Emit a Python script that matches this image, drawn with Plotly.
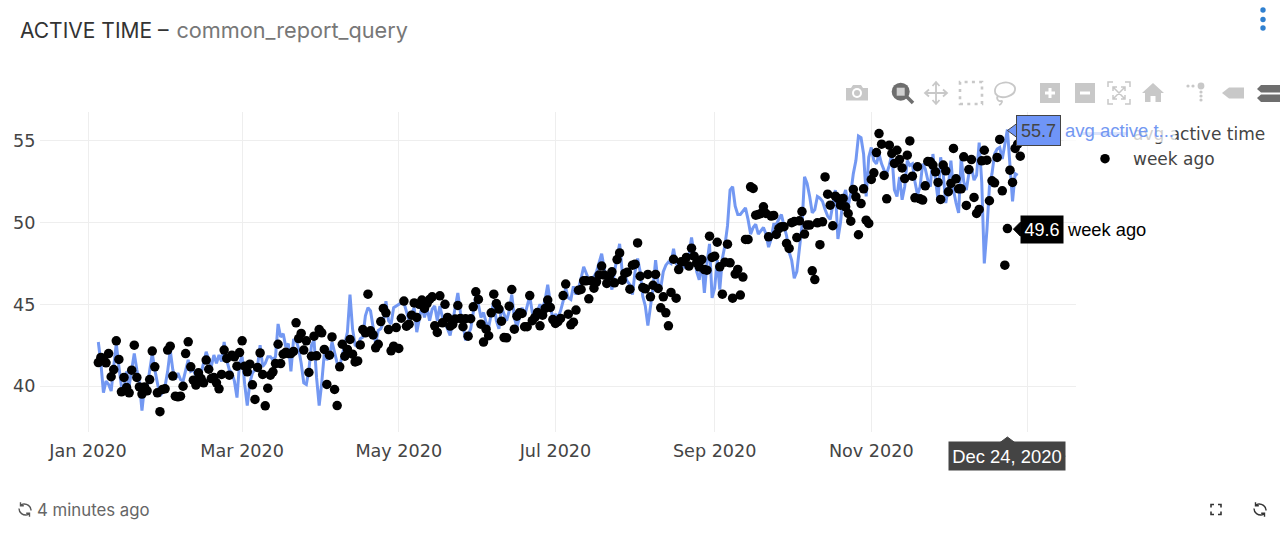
import pandas as pd
import plotly.graph_objects as go

FIRST_DAY = "2020-01-05"

avg_active_time = [
    42.7, 41.4, 39.6, 40.3, 40.1, 39.7, 41.2,
    42.6, 41.2, 40.0, 39.9, 40.9, 40.0, 41.0,
    42.0, 41.0, 40.2, 38.5, 40.0, 39.9, 41.0,
    42.0, 41.0, 40.2, 39.4, 39.6, 40.0, 40.9,
    42.2, 41.0, 40.4, 40.8, 40.4, 40.3, 41.0,
    41.6, 40.9, 41.0, 40.6, 40.7, 40.8, 41.4,
    42.1, 41.6, 41.2, 41.9, 41.4, 41.9, 41.5,
    42.7, 41.6, 41.0, 40.8, 40.3, 39.3, 41.4,
    41.8, 40.1, 38.8, 40.2, 40.8, 41.0, 41.2,
    42.5, 41.2, 41.4, 41.8, 41.8, 41.6, 41.8,
    43.8, 43.0, 43.2, 42.4, 42.6, 40.9, 42.8,
    42.8, 42.3, 41.4, 40.2, 40.1, 41.0, 42.5,
    42.8, 40.5, 38.8, 40.2, 42.0, 41.6, 41.8,
    42.7, 42.0, 41.4, 41.2, 41.9, 42.4, 43.3,
    45.6, 43.5, 42.5, 42.4, 42.9, 43.0, 44.3,
    44.8, 44.6, 43.5, 42.6, 43.4, 43.5, 43.9,
    45.2, 44.0, 43.8, 44.8, 44.9, 45.0, 45.1,
    45.1, 44.5, 44.0, 44.4, 44.8, 43.3, 44.0,
    44.9, 44.2, 44.8, 44.0, 44.7, 44.9, 44.0,
    44.9, 44.2, 43.8, 43.5, 43.1, 44.0, 45.0,
    45.7, 44.5, 43.8, 42.8, 43.2, 43.5, 44.5,
    45.5, 45.0, 44.2, 44.5, 43.9, 43.6, 44.5,
    45.2, 44.0, 43.5, 44.8, 44.4, 44.0, 44.6,
    45.6, 44.2, 43.6, 44.2, 44.8, 44.3, 44.9,
    45.5, 44.5, 44.1, 44.6, 45.0, 44.7, 45.3,
    46.2, 45.0, 44.0, 44.4, 44.2, 44.6, 45.2,
    46.0, 45.4, 45.3, 46.1, 45.6, 46.0, 46.6,
    47.3, 46.9, 46.5, 46.6, 46.7, 47.0, 47.5,
    48.1, 47.2, 46.3, 46.8, 45.9, 47.0, 47.8,
    48.7, 47.0, 46.8, 46.4, 46.2, 45.6, 47.0,
    47.8, 47.0, 45.5, 44.9, 43.7, 45.0, 46.0,
    47.7, 46.3, 46.0, 47.0, 47.4, 47.6, 47.5,
    48.4, 47.5, 47.3, 47.4, 47.3, 47.9, 48.0,
    49.1, 48.0, 47.0, 46.5, 47.6, 45.7, 47.5,
    48.7, 45.4, 46.0, 47.7, 45.9, 47.8, 48.6,
    49.8, 52.0, 52.2, 51.0, 50.5, 50.5, 50.7,
    50.9, 50.2, 49.3, 49.7, 49.9, 49.3, 49.5,
    49.7, 49.3, 48.5, 49.0, 49.9, 49.9, 50.2,
    50.5, 49.8, 49.2, 48.2, 47.7, 46.6, 47.0,
    48.4, 49.8, 52.8, 52.4, 51.6, 50.6, 50.8,
    51.6, 51.5, 51.3, 50.8, 50.4, 50.2, 51.0,
    52.0, 49.0, 50.0, 51.5, 52.0, 51.0, 51.8,
    53.0, 53.8, 55.3, 55.2, 54.2, 51.6, 54.0,
    54.6, 53.8, 53.6, 54.2, 53.6, 53.2, 53.0,
    53.5, 54.2, 52.0, 51.6, 52.8, 51.4, 52.2,
    53.8, 53.5, 53.6, 52.5, 51.7, 52.2, 53.6,
    53.3, 52.6, 52.2, 54.2, 52.6, 51.4, 54.0,
    53.0, 51.2, 52.2, 53.8, 52.0, 51.2, 50.6,
    54.0, 52.5, 52.0, 53.0, 53.4, 52.6, 52.9,
    54.9, 52.5, 47.5, 49.5, 52.2, 53.0, 54.2,
    54.5, 54.6, 53.9, 54.8, 55.7, 53.5, 51.3, 53.0, 52.9,
]

week_ago = [
    41.44, 41.75, 41.69, 41.42, 41.99, 40.57, 41.01, 42.77, 41.63, 39.65,
    40.53, 39.91, 39.59, 40.97, 42.50, 40.53, 39.95, 39.51, 39.95, 39.71,
    40.40, 42.14, 41.18, 39.59, 38.43, 39.79, 39.83, 42.20, 42.44, 40.61,
    39.38, 39.34, 39.38, 39.99, 41.99, 42.71, 41.18, 40.36, 40.06, 40.81,
    40.46, 40.20, 41.59, 41.03, 40.46, 40.53, 40.20, 39.83, 40.71, 42.20,
    41.69, 40.67, 41.89, 41.79, 41.22, 42.05, 42.77, 41.22, 40.87, 41.34,
    40.08, 39.18, 41.14, 42.03, 40.71, 38.79, 39.87, 40.67, 40.87, 41.38,
    42.56, 41.38, 41.95, 42.07, 41.99, 41.99, 42.12, 43.87, 42.91, 43.22,
    42.20, 42.77, 40.83, 41.83, 43.05, 41.85, 43.46, 43.26, 42.24, 40.10,
    41.89, 43.01, 39.79, 38.81, 41.18, 42.56, 41.83, 42.24, 42.85, 41.95,
    41.48, 41.54, 42.52, 43.46, 43.26, 45.62, 43.38, 43.13, 42.34, 42.56,
    43.95, 44.75, 44.48, 43.46, 42.16, 42.44, 43.58, 42.30, 44.15, 45.20,
    43.66, 43.79,
    44.34, 45.09, 44.20, 45.00, 45.26, 44.75, 45.05, 45.30, 45.46, 43.69,
    43.28, 45.52, 43.87, 45.00, 44.20, 43.67, 43.77, 44.10, 44.93, 44.14,
    43.63, 44.12, 43.05, 44.12, 44.85, 45.77, 45.30, 43.79, 42.69, 43.48,
    43.08, 44.48, 45.62, 45.05, 44.71, 43.97, 42.97, 42.95, 44.89, 45.91,
    43.48, 44.28, 44.48, 44.44, 43.63, 43.63, 45.54, 44.00, 44.20, 44.50,
    43.69, 44.34, 44.75, 45.26, 44.81, 44.07, 43.83, 43.95, 44.14, 45.54,
    46.24, 44.40, 43.75, 43.91, 44.65, 45.87, 45.91, 46.44, 46.44, 45.34,
    46.44, 45.99, 46.38, 46.79, 47.34, 46.79, 46.28, 46.72, 46.99, 46.32,
    47.74, 48.15, 46.48, 46.89, 46.97, 45.93, 47.40, 47.46, 48.76, 46.72,
    46.03, 45.95, 46.83, 45.46, 46.17, 46.83, 45.97, 44.79, 45.46, 44.48,
    43.69, 45.73, 47.76, 45.38, 47.13, 47.60, 47.62, 47.87, 47.34, 48.44,
    47.95, 47.54, 47.30, 47.74, 47.13, 47.09, 49.17, 47.87, 47.95, 48.80,
    47.30, 45.62, 47.58, 48.68, 47.54,
    45.38, 46.85, 47.14, 45.57, 46.67,
    48.97, 48.97, 52.19, 52.09, 50.46, 50.50, 50.56, 50.97, 50.56, 49.13,
    50.40, 50.44, 49.28, 49.64, 49.75, 49.75, 48.73, 48.42, 50.00, 50.07,
    49.09, 50.11, 50.68, 49.30, 49.85, 49.85, 47.05, 46.52, 49.99, 48.65,
    50.05, 52.80, 51.74, 51.07, 49.81, 51.62, 51.48, 51.07, 51.48, 50.97,
    50.56, 50.09, 52.03, 51.58, 49.26, 51.17, 52.07, 50.15, 49.95, 52.64,
    53.05, 54.29, 55.45, 54.80, 52.89, 51.46, 54.74, 54.23, 53.62, 54.43,
    53.86, 53.35, 52.70, 54.13, 55.00, 52.84, 51.52, 53.42, 51.46, 51.38,
    52.25, 53.74, 53.72, 53.52, 53.11, 52.46, 51.42, 53.52, 53.17, 51.89,
    52.40, 54.54, 52.68, 52.07, 52.07, 54.03, 51.05, 53.25, 53.86, 51.54,
    50.56, 50.81, 53.78, 54.43, 53.82, 51.34, 52.56, 52.44, 53.99, 55.09,
    51.95, 47.40, 49.64, 53.21, 52.46, 54.54, 54.80, 54.07,
]

HOVER_DATE = "2020-12-24"
HOVER_DATE_LABEL = "Dec 24, 2020"
HOVER_AVG = 55.7
HOVER_WEEK = 49.6

LINE_BLUE = "#7398f2"
BLUE_LABEL = "#6f95f7"
GRID = "#eeeeee"
TEXT = "#444444"
ICON_LIGHT = "#c8c8c8"
ICON_DARK = "#6e6e6e"

# Pixel frame of the plot area in the 1280x542 page
L, R, T, B = 40, 1076, 112, 432


def paper_x(px):
    return (px - L) / (R - L)


def paper_y(py):
    return (B - py) / (B - T)


fig = go.Figure()
fig.add_trace(go.Scatter(
    x=pd.date_range(FIRST_DAY, periods=len(avg_active_time)),
    y=avg_active_time,
    mode="lines",
    name="avg active time",
    line=dict(color=LINE_BLUE, width=3),
))
fig.add_trace(go.Scatter(
    x=pd.date_range(FIRST_DAY, periods=len(week_ago)),
    y=week_ago,
    mode="markers",
    name="week ago",
    marker=dict(color="#000000", size=9.5),
))

refresh_icon = (
    "M-6,1 C-6,-3.5 -2,-6 2.2,-5.4 L4.5,-4.4 M4.5,-7.2 L4.5,-3.8 L1.2,-3.8 "
    "M6,-1 C6,3.5 2,6 -2.2,5.4 L-4.5,4.4 M-4.5,7.2 L-4.5,3.8 L-1.2,3.8"
)
focus_icon = (
    "M-5,-2 L-5,-5 L-2,-5 M2,-5 L5,-5 L5,-2 M5,2 L5,5 L2,5 M-2,5 L-5,5 L-5,2"
)


def glyph(px, py, path, fill=None, color=None, width=0, dash=None):
    return dict(
        type="path", xref="paper", yref="paper",
        xsizemode="pixel", ysizemode="pixel",
        xanchor=paper_x(px), yanchor=paper_y(py),
        path=path,
        fillcolor=fill or "rgba(0,0,0,0)",
        line=dict(color=color or "rgba(0,0,0,0)", width=width, dash=dash),
        layer="above",
    )


def dot(px, py, r, fill, cx=0, cy=0, color=None, width=0):
    return dict(
        type="circle", xref="paper", yref="paper",
        xsizemode="pixel", ysizemode="pixel",
        xanchor=paper_x(px), yanchor=paper_y(py),
        x0=cx - r, x1=cx + r, y0=cy - r, y1=cy + r,
        fillcolor=fill, line=dict(color=color or "rgba(0,0,0,0)", width=width),
        layer="above",
    )


def pointer(x, y, path, fill, border=None):
    return dict(
        type="path", xref="x", yref="y" if y != 0 else "paper",
        xsizemode="pixel", ysizemode="pixel",
        xanchor=x, yanchor=y, path=path, fillcolor=fill,
        line=dict(color=border or fill, width=1), layer="above",
    )


SQUARE = "M-10,-10 L10,-10 L10,10 L-10,10 Z"
TOOL_Y = 93
toolbar = [
    # camera
    glyph(857, TOOL_Y, "M-11,-7.5 L11,-7.5 L11,5 L6,5 L4,8 L-4,8 L-6,5 L-11,5 Z", fill=ICON_LIGHT),
    dot(857, TOOL_Y, 5, "#ffffff"),
    dot(857, TOOL_Y, 3, ICON_LIGHT),
    # magnifier
    glyph(903, TOOL_Y, "M3,-3 L10,-10", color=ICON_DARK, width=3.5),
    dot(903, TOOL_Y, 9, ICON_DARK, cx=-2.3, cy=1.3),
    glyph(903, TOOL_Y, "M-6.3,-2.7 L1.7,-2.7 L1.7,5.3 L-6.3,5.3 Z", fill="#d0d0d0"),
    # pan
    glyph(936, TOOL_Y,
          "M-11,0 L11,0 M0,-11 L0,11 M-7,3.5 L-11,0 L-7,-3.5 M7,3.5 L11,0 L7,-3.5 "
          "M-3.5,7 L0,11 L3.5,7 M-3.5,-7 L0,-11 L3.5,-7",
          color=ICON_LIGHT, width=1.8),
    # box select
    glyph(971, TOOL_Y, "M-11,-11 L11,-11 L11,11 L-11,11 Z", color=ICON_LIGHT, width=2.6, dash="3px,4.3px"),
    # lasso
    glyph(1005, TOOL_Y,
          "M-7,-3 C-12,0 -11,8 -3,10 C4,12 11,8 10,3 C9,-3 -2,-6 -7,-3 "
          "C-9,-5 -7,-9 -4,-8 C-2,-7 -3,-11 -6,-12",
          color=ICON_LIGHT, width=1.8),
    # zoom in
    glyph(1050, TOOL_Y, SQUARE, fill=ICON_LIGHT),
    glyph(1050, TOOL_Y, "M-5,0 L5,0 M0,-5 L0,5", color="#ffffff", width=3),
    # zoom out
    glyph(1085, TOOL_Y, SQUARE, fill=ICON_LIGHT),
    glyph(1085, TOOL_Y, "M-5,0 L5,0", color="#ffffff", width=3),
    # autoscale
    glyph(1119, TOOL_Y,
          "M-11,6 L-11,11 L-6,11 M6,11 L11,11 L11,6 M11,-6 L11,-11 L6,-11 M-6,-11 L-11,-11 L-11,-6 "
          "M-6,6 L6,-6 M-6,-6 L6,6 M-6,2 L-6,6 L-2,6 M6,-2 L6,-6 L2,-6 M6,2 L6,6 L2,6 M-6,-2 L-6,-6 L-2,-6",
          color=ICON_LIGHT, width=1.5),
    # home
    glyph(1153, TOOL_Y,
          "M-11,0 L0,10 L11,0 L8,0 L8,-9 L2.5,-9 L2.5,-3 L-2.5,-3 L-2.5,-9 L-8,-9 L-8,0 Z",
          fill=ICON_LIGHT),
    # spike lines
    dot(1197, TOOL_Y, 1.6, ICON_LIGHT, cx=-9, cy=7),
    dot(1197, TOOL_Y, 1.6, ICON_LIGHT, cx=-4, cy=7),
    dot(1197, TOOL_Y, 3.4, ICON_LIGHT, cx=4, cy=7),
    dot(1197, TOOL_Y, 1.6, ICON_LIGHT, cx=4, cy=1),
    dot(1197, TOOL_Y, 1.6, ICON_LIGHT, cx=4, cy=-3),
    dot(1197, TOOL_Y, 1.6, ICON_LIGHT, cx=4, cy=-7),
    # closest data
    glyph(1234, TOOL_Y, "M-12,0 L-5,5.5 L10,5.5 L10,-5.5 L-5,-5.5 Z", fill=ICON_LIGHT),
    # compare data
    glyph(1268, TOOL_Y, "M-11,4 L-7,8 L22,8 L22,0.5 L-7,0.5 Z", fill=ICON_DARK),
    glyph(1268, TOOL_Y, "M-11,-5 L-7,-1.5 L22,-1.5 L22,-9 L-7,-9 Z", fill=ICON_DARK),
]

shapes = [
    pointer(HOVER_DATE, HOVER_AVG, "M0,-1 L9.5,-8 L9.5,6 Z", BLUE_LABEL, TEXT),
    pointer(HOVER_DATE, HOVER_WEEK, "M6,0 L13,-7 L13,7 Z", "#000000"),
    pointer(HOVER_DATE, 0, "M0,-5 L-8,-11 L8,-11 Z", "#444444"),
    glyph(25, 509.5, refresh_icon, color="#555555", width=1.4),
    glyph(1216, 509.5, focus_icon, color="#333333", width=1.6),
    glyph(1260, 509.5, refresh_icon, color="#333333", width=1.4),
    dot(1263, 10, 2.7, "#2f80d0"),
    dot(1263, 19.5, 2.7, "#2f80d0"),
    dot(1263, 28, 2.7, "#2f80d0"),
] + toolbar

HOVER_FONT = "Liberation Sans, Arial, sans-serif"
annotations = [
    dict(x=HOVER_DATE, y=HOVER_AVG, xref="x", yref="y", text="55.7",
         showarrow=False, xanchor="left", xshift=9, yshift=-1, width=43, height=29,
         bgcolor=BLUE_LABEL, bordercolor=TEXT, borderwidth=1, borderpad=0,
         font=dict(family=HOVER_FONT, size=18, color=TEXT)),
    dict(x=HOVER_DATE, y=HOVER_AVG, xref="x", yref="y", text="avg active t...",
         showarrow=False, xanchor="left", xshift=56, yshift=-1,
         bgcolor="rgba(255,255,255,0.75)",
         font=dict(family=HOVER_FONT, size=18.5, color=LINE_BLUE)),
    dict(x=HOVER_DATE, y=HOVER_WEEK, xref="x", yref="y", text="49.6",
         showarrow=False, xanchor="left", xshift=13, width=42, height=27,
         bgcolor="#000000", borderpad=0,
         font=dict(family=HOVER_FONT, size=18, color="#ffffff")),
    dict(x=HOVER_DATE, y=HOVER_WEEK, xref="x", yref="y", text="week ago",
         showarrow=False, xanchor="left", xshift=58,
         font=dict(family=HOVER_FONT, size=18.3, color="#000000")),
    dict(x=HOVER_DATE, y=0, xref="x", yref="paper", text=HOVER_DATE_LABEL,
         showarrow=False, xanchor="center", yanchor="top", yshift=-9,
         width=116, height=28, bgcolor="#444444", borderpad=0,
         font=dict(family=HOVER_FONT, size=18.4, color="#ffffff")),
    dict(x=paper_x(35), y=paper_y(510), xref="paper", yref="paper",
         text="4 minutes ago", showarrow=False, xanchor="left", yanchor="middle",
         font=dict(family="Inter, sans-serif", size=16.8, color="#666666")),
]

fig.update_layout(
    width=1280, height=542,
    margin=dict(l=L, r=1280 - R, t=T, b=542 - B, autoexpand=False),
    paper_bgcolor="#ffffff", plot_bgcolor="#ffffff",
    title=dict(
        text="ACTIVE TIME – <span style='color:#777777;font-size:21.7px'>&#8202;common_report_query</span>",
        x=20 / 1280, xanchor="left", y=1 - 31 / 542, yanchor="middle",
        font=dict(family="Inter, sans-serif", size=21, color="#333333"),
    ),
    xaxis=dict(
        range=["2019-12-13 07:00", "2021-01-19 17:00"],
        dtick="M2", tick0="2020-01-01", tickformat="%b %Y",
        ticks="outside", ticklen=3, tickcolor="rgba(0,0,0,0)",
        gridcolor=GRID, gridwidth=1, zeroline=False, showline=False,
        tickfont=dict(family="DejaVu Sans", size=17.6, color=TEXT),
    ),
    yaxis=dict(
        range=[37.19, 56.77], dtick=5, tick0=40,
        ticks="outside", ticklen=0, tickcolor="rgba(0,0,0,0)",
        gridcolor=GRID, gridwidth=1, zeroline=False, showline=False,
        tickfont=dict(family="DejaVu Sans", size=17.6, color=TEXT),
    ),
    legend=dict(
        x=paper_x(1077), xanchor="left", y=paper_y(116), yanchor="top",
        itemwidth=46,
        font=dict(family="DejaVu Sans", size=17, color=TEXT),
        bgcolor="rgba(0,0,0,0)",
    ),
    hovermode="x",
    dragmode="zoom",
    shapes=shapes,
    annotations=annotations,
)

post_script = """
var s = document.createElement('style');
s.textContent = 'html,body{margin:0;overflow:hidden}';
document.head.appendChild(s);
"""

fig.write_html("out.html", config=dict(displayModeBar=False), post_script=post_script)
